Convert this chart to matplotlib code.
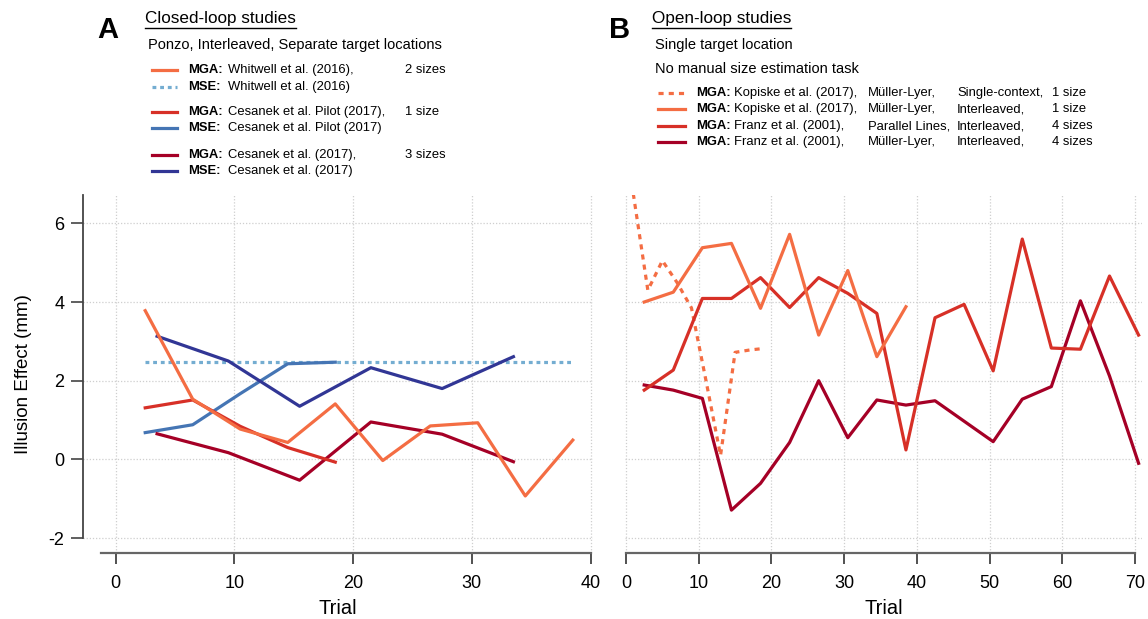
import matplotlib
matplotlib.use('Agg')
import matplotlib.pyplot as plt
from matplotlib.lines import Line2D

plt.rcParams['font.family'] = ['Liberation Sans', 'DejaVu Sans']
plt.rcParams['axes.unicode_minus'] = False

# colours (RdYlBu family)
C_ORANGE = '#f46d43'
C_RED = '#d73027'
C_DARKRED = '#a50026'
C_LIGHTBLUE = '#74add1'
C_BLUE = '#4575b4'
C_DARKBLUE = '#313695'

# ---- closed-loop studies (panel A) ----
whitwell_x = [2.5, 6.5, 10.5, 14.5, 18.5, 22.5, 26.5, 30.5, 34.5, 38.5]
whitwell_mga = [3.78, 1.53, 0.77, 0.43, 1.41, -0.03, 0.85, 0.93, -0.93, 0.49]
whitwell_mse = [2.47, 2.47, 2.47, 2.47, 2.47, 2.47, 2.47, 2.47, 2.47, 2.47]

pilot_x = [2.5, 6.5, 10.5, 14.5, 18.5]
pilot_mga = [1.31, 1.51, 0.84, 0.30, -0.07]
pilot_mse = [0.68, 0.88, 1.67, 2.43, 2.47]

cesanek_x = [3.5, 9.5, 15.5, 21.5, 27.5, 33.5]
cesanek_mga = [0.65, 0.17, -0.53, 0.95, 0.64, -0.06]
cesanek_mse = [3.13, 2.50, 1.35, 2.33, 1.80, 2.61]

# ---- open-loop studies (panel B) ----
kop_single_x = [1, 3, 5, 7, 9, 11, 13, 15, 17, 19]
kop_single_mga = [6.75, 4.30, 5.05, 4.50, 3.85, 2.00, 0.10, 2.72, 2.78, 2.82]

kop_inter_x = [2.5, 6.5, 10.5, 14.5, 18.5, 22.5, 26.5, 30.5, 34.5, 38.5]
kop_inter_mga = [4.00, 4.25, 5.38, 5.49, 3.84, 5.72, 3.16, 4.80, 2.61, 3.88]

franz_x = [2.5, 6.5, 10.5, 14.5, 18.5, 22.5, 26.5, 30.5, 34.5, 38.5,
           42.5, 46.5, 50.5, 54.5, 58.5, 62.5, 66.5, 70.5]
franz_parallel = [1.76, 2.27, 4.09, 4.09, 4.62, 3.86, 4.62, 4.22, 3.71, 0.24,
                  3.60, 3.94, 2.25, 5.60, 2.83, 2.80, 4.66, 3.16]
franz_ml = [1.89, 1.76, 1.55, -1.29, -0.61, 0.43, 2.00, 0.55, 1.51, 1.38,
            1.49, 0.97, 0.45, 1.53, 1.85, 4.03, 2.12, -0.10]

W, H = 1148, 619
fig = plt.figure(figsize=(W / 100, H / 100), dpi=100)


def fx(px):
    return px / W


def fy(py):
    return 1 - py / H


YLIM = (-2.38, 6.72)
LW = 2.3

axA = fig.add_axes([fx(82.5), fy(553), fx(593) - fx(82.5), fy(195) - fy(553)])
axB = fig.add_axes([fx(625.3), fy(553), fx(1141.5) - fx(625.3), fy(195) - fy(553)])

# panel A lines
axA.plot(whitwell_x, whitwell_mse, color=C_LIGHTBLUE, lw=LW, ls=(0, (1.2, 1.2)))
axA.plot(pilot_x, pilot_mse, color=C_BLUE, lw=LW)
axA.plot(cesanek_x, cesanek_mse, color=C_DARKBLUE, lw=LW)
axA.plot(cesanek_x, cesanek_mga, color=C_DARKRED, lw=LW)
axA.plot(pilot_x, pilot_mga, color=C_RED, lw=LW)
axA.plot(whitwell_x, whitwell_mga, color=C_ORANGE, lw=LW)

# panel B lines
axB.plot(kop_single_x, kop_single_mga, color=C_ORANGE, lw=LW, ls=(0, (1.6, 1.6)))
axB.plot(franz_x, franz_ml, color=C_DARKRED, lw=LW)
axB.plot(franz_x, franz_parallel, color=C_RED, lw=LW)
axB.plot(kop_inter_x, kop_inter_mga, color=C_ORANGE, lw=LW)

for ax in (axA, axB):
    ax.set_ylim(*YLIM)
    ax.set_yticks([-2, 0, 2, 4, 6])
    ax.grid(True, color='#cfcfcf', ls=(0, (1, 1.5)), lw=0.9)
    ax.set_axisbelow(True)
    ax.spines['top'].set_visible(False)
    ax.spines['right'].set_visible(False)
    ax.spines['bottom'].set_color('#666666')
    ax.spines['bottom'].set_linewidth(1.6)
    ax.tick_params(axis='x', length=8, width=1.2, color='#333333',
                   labelsize=13, pad=8)
    ax.set_xlabel('Trial', fontsize=14.5, labelpad=5)

axA.set_xlim(-2.78, 40.2)
axA.set_xticks([0, 10, 20, 30, 40])
axA.spines['bottom'].set_bounds(-1.2, 40)
axA.spines['left'].set_bounds(-2, 6.72)
axA.spines['left'].set_color('#444444')
axA.spines['left'].set_linewidth(1.3)
axA.tick_params(axis='y', length=9, width=1.2, color='#444444',
                labelsize=13, pad=4)
axA.set_ylabel('Illusion Effect (mm)', fontsize=13.5, labelpad=12)

axB.set_xlim(-0.1, 70.9)
axB.set_xticks([0, 10, 20, 30, 40, 50, 60, 70])
axB.spines['bottom'].set_bounds(0, 70)
axB.spines['left'].set_visible(False)
axB.tick_params(axis='y', left=False, labelleft=False)

# ---- header text ----
fig.text(fx(97), fy(30), 'A', fontsize=21, fontweight='bold', va='center')
fig.text(fx(609), fy(30), 'B', fontsize=21, fontweight='bold', va='center')

titles = [
    fig.text(fx(145), fy(19), 'Closed-loop studies', fontsize=12.3, va='center'),
    fig.text(fx(652), fy(19), 'Open-loop studies', fontsize=12.3, va='center'),
]

fig.text(fx(148), fy(45), 'Ponzo, Interleaved, Separate target locations',
         fontsize=10.5, va='center')
fig.text(fx(655), fy(45), 'Single target location', fontsize=10.5, va='center')
fig.text(fx(655), fy(69), 'No manual size estimation task', fontsize=10.5, va='center')

LEG_FS = 9.4

left_rows = [
    (70, C_ORANGE, '-', 'MGA:', 'Whitwell et al. (2016),', '2 sizes'),
    (87, C_LIGHTBLUE, (0, (1.2, 1.2)), 'MSE:', 'Whitwell et al. (2016)', ''),
    (112, C_RED, '-', 'MGA:', 'Cesanek et al. Pilot (2017),', '1 size'),
    (128, C_BLUE, '-', 'MSE:', 'Cesanek et al. Pilot (2017)', ''),
    (155, C_DARKRED, '-', 'MGA:', 'Cesanek et al. (2017),', '3 sizes'),
    (171, C_DARKBLUE, '-', 'MSE:', 'Cesanek et al. (2017)', ''),
]
for y, col, ls, tag, study, sizes in left_rows:
    fig.add_artist(Line2D([fx(152), fx(177)], [fy(y), fy(y)], color=col,
                          lw=LW, ls=ls))
    fig.text(fx(188), fy(y), tag, fontsize=LEG_FS, fontweight='bold', va='center')
    fig.text(fx(228), fy(y), study, fontsize=LEG_FS, va='center')
    if sizes:
        fig.text(fx(405), fy(y), sizes, fontsize=LEG_FS, va='center')

right_rows = [
    (93, C_ORANGE, (0, (1.6, 1.6)), 'Kopiske et al. (2017),', 'Müller-Lyer,',
     'Single-context,', '1 size'),
    (109, C_ORANGE, '-', 'Kopiske et al. (2017),', 'Müller-Lyer,',
     'Interleaved,', '1 size'),
    (126, C_RED, '-', 'Franz et al. (2001),', 'Parallel Lines,',
     'Interleaved,', '4 sizes'),
    (142, C_DARKRED, '-', 'Franz et al. (2001),', 'Müller-Lyer,',
     'Interleaved,', '4 sizes'),
]
for y, col, ls, study, illusion, design, sizes in right_rows:
    fig.add_artist(Line2D([fx(658), fx(685)], [fy(y), fy(y)], color=col,
                          lw=LW, ls=ls))
    fig.text(fx(696), fy(y), 'MGA:', fontsize=LEG_FS, fontweight='bold', va='center')
    fig.text(fx(734), fy(y), study, fontsize=LEG_FS, va='center')
    fig.text(fx(868), fy(y), illusion, fontsize=LEG_FS, va='center')
    fig.text(fx(957), fy(y), design, fontsize=LEG_FS, va='center')
    fig.text(fx(1052), fy(y), sizes, fontsize=LEG_FS, va='center')

# underline the panel titles
fig.canvas.draw()
renderer = fig.canvas.get_renderer()
for t in titles:
    bb = t.get_window_extent(renderer)
    fig.add_artist(Line2D([bb.x0 / W, bb.x1 / W], [fy(27.5), fy(27.5)],
                          color='black', lw=1.0))

fig.savefig('out.png', dpi=100)
